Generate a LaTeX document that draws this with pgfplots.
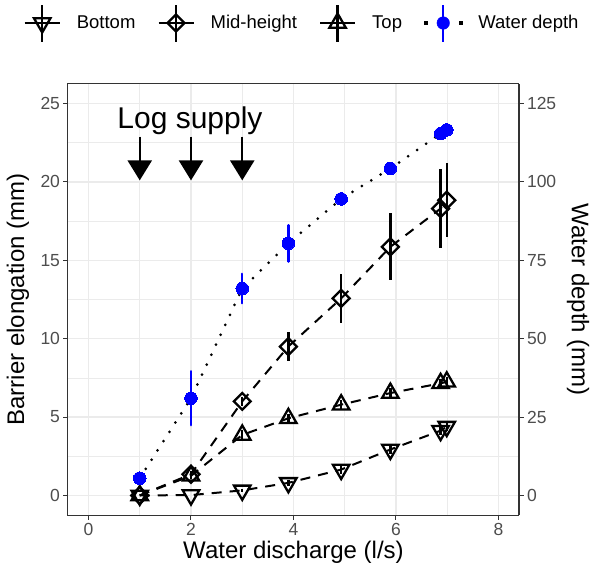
\documentclass[border=0pt]{standalone}
\usepackage{pgfplots}
\pgfplotsset{compat=1.18}
\usepackage{fontspec}
\setmainfont{Liberation Sans}
\usetikzlibrary{arrows.meta}
\definecolor{gridc}{HTML}{EBEBEB}
\definecolor{tickc}{HTML}{4D4D4D}
\definecolor{framec}{HTML}{333333}
\definecolor{wblue}{HTML}{0000FF}
\pgfplotsset{
  common/.style={
    at={(0,0)}, anchor=south west,
    scale only axis, width=451pt, height=431pt,
    xmin=-0.4, xmax=8.4,
    tick align=outside,
    major tick length=4.5pt, minor tick length=0pt,
    tick style={framec, line width=1pt},
    axis line style={framec, line width=1pt},
    ticklabel style={font=\fontsize{17.5}{20}\selectfont, text=tickc},
    /pgf/number format/assume math mode=true,
  },
  ebars/.style={error bars/.cd, y dir=both, y explicit, error mark=none,
    error bar style={line width=2.4pt, solid, #1}},
}
\begin{document}
\begin{tikzpicture}
\begin{axis}[common,
  ymin=-1.25, ymax=26.25,
  xtick={0,2,4,6,8}, ytick={0,5,...,25},
  minor x tick num=1, minor y tick num=1,
  grid=both,
  major grid style={draw=gridc, line width=1.1pt},
  minor grid style={draw=gridc, line width=0.55pt},
  tick pos=left,
  xlabel={Water discharge (l/s)}, ylabel={Barrier elongation (mm)},
  every axis x label/.style={at={(axis description cs:0.5,-0.086)}, anchor=center, font=\fontsize{24}{28}\selectfont},
  every axis y label/.style={at={(axis description cs:-0.111,0.5)}, rotate=90, anchor=center, font=\fontsize{24}{28}\selectfont},
  legend columns=4,
  legend style={at={(axis description cs:0.519,1.1415)}, anchor=center,
    draw=none, fill=none, font=\fontsize{18.5}{22}\selectfont,
    /tikz/every even column/.append style={column sep=20pt},
    /tikz/every odd column/.append style={column sep=14pt}},
]
\addlegendimage{legend image code/.code={
  \draw[black, line width=2.2pt, solid] (0pt,0pt) -- (35pt,0pt);
  \draw[black, line width=2.4pt, solid] (17.5pt,-18.5pt) -- (17.5pt,18.5pt);
  \draw[black, line width=2.3pt, solid, mark=triangle, mark size=9.5pt, mark options={rotate=180}] plot coordinates {(17.5pt,0pt)};
}}
\addlegendentry{Bottom}
\addlegendimage{legend image code/.code={
  \draw[black, line width=2.2pt, solid] (0pt,0pt) -- (35pt,0pt);
  \draw[black, line width=2.4pt, solid] (17.5pt,-18.5pt) -- (17.5pt,18.5pt);
  \draw[black, line width=2.3pt, solid, mark=square, mark size=6pt, mark options={rotate=45}] plot coordinates {(17.5pt,0pt)};
}}
\addlegendentry{Mid-height}
\addlegendimage{legend image code/.code={
  \draw[black, line width=2.2pt, solid] (0pt,0pt) -- (35pt,0pt);
  \draw[black, line width=2.4pt, solid] (17.5pt,-18.5pt) -- (17.5pt,18.5pt);
  \draw[black, line width=2.3pt, solid, mark=triangle, mark size=9.5pt] plot coordinates {(17.5pt,0pt)};
}}
\addlegendentry{Top}
\addlegendimage{legend image code/.code={
  \fill[black] (-1.5pt,-1.5pt) rectangle (1.5pt,1.5pt);
  \fill[black] (33.5pt,-1.5pt) rectangle (36.5pt,1.5pt);
  \draw[wblue, line width=2.4pt, solid] (17.5pt,-18.5pt) -- (17.5pt,18.5pt);
  \fill[wblue] (17.5pt,0pt) circle (6.3pt);
}}
\addlegendentry{Water depth}

% Bottom
\addplot[forget plot, black, line width=2pt, dash pattern=on 10pt off 8pt,
  mark=triangle, mark size=9.5pt, mark options={rotate=180, solid, line width=2.3pt},
  ebars=black] coordinates {
  (1,0) +- (0,0)
  (2,0.02) +- (0,0)
  (3,0.32) +- (0,0.1)
  (3.9,0.8) +- (0,0.2)
  (4.93,1.65) +- (0,0.3)
  (5.89,2.93) +- (0,0.3)
  (6.87,4.13) +- (0,0.3)
  (6.99,4.39) +- (0,0.3)
};
% Top
\addplot[forget plot, black, line width=2pt, dash pattern=on 10pt off 8pt,
  mark=triangle, mark size=9.5pt, mark options={solid, line width=2.3pt},
  ebars=black] coordinates {
  (1,0) +- (0,0)
  (2,1.25) +- (0,0.2)
  (3,3.86) +- (0,0.3)
  (3.9,4.92) +- (0,0.3)
  (4.93,5.79) +- (0,0.3)
  (5.89,6.53) +- (0,0.3)
  (6.87,7.15) +- (0,0.3)
  (6.99,7.25) +- (0,0.3)
};
% Mid-height
\addplot[forget plot, black, line width=2pt, dash pattern=on 10pt off 8pt,
  mark=square, mark size=6pt, mark options={rotate=45, solid, line width=2.3pt},
  ebars=black] coordinates {
  (1,0) +- (0,0)
  (2,1.35) +- (0,0.2)
  (3,6.0) +- (0,0.3)
  (3.9,9.5) +- (0,0.92)
  (4.93,12.57) +- (0,1.55)
  (5.89,15.86) +- (0,2.13)
  (6.87,18.3) +- (0,2.52)
  (6.99,18.83) +- (0,2.36)
};
% Log supply arrows
\draw[black, line width=2.4pt, -{Triangle[width=24pt,length=20pt]}] (axis cs:1,22.9) -- (axis cs:1,20.1);
\draw[black, line width=2.4pt, -{Triangle[width=24pt,length=20pt]}] (axis cs:2,22.9) -- (axis cs:2,20.1);
\draw[black, line width=2.4pt, -{Triangle[width=24pt,length=20pt]}] (axis cs:3,22.9) -- (axis cs:3,20.1);
\node[font=\fontsize{30}{34}\selectfont, anchor=center] at (axis cs:1.98,23.9) {Log supply};
\end{axis}

\begin{axis}[common,
  ymin=-6.25, ymax=131.25,
  axis x line=none, axis y line*=right,
  ytick={0,25,...,125},
  ylabel={Water depth (mm)},
  every axis y label/.style={at={(axis description cs:1.131,0.5)}, rotate=-90, anchor=center, font=\fontsize{24}{28}\selectfont},
]
\addplot[black, line width=3pt, line cap=round, dash pattern=on 0pt off 11pt,
  mark=*, mark size=6.3pt, mark options={solid, draw=wblue, fill=wblue, line width=0pt},
  ebars=wblue] coordinates {
  (1,5.5) +- (0,0)
  (2,31) +- (0,8.6)
  (3,66) +- (0,4.7)
  (3.9,80.4) +- (0,5.8)
  (4.93,94.6) +- (0,0)
  (5.89,104.3) +- (0,0)
  (6.87,115.4) +- (0,0)
  (6.99,116.6) +- (0,0)
};
\end{axis}
\pgfresetboundingbox
\path (-68pt,-59pt) rectangle (522pt,515pt);
\end{tikzpicture}
\end{document}
